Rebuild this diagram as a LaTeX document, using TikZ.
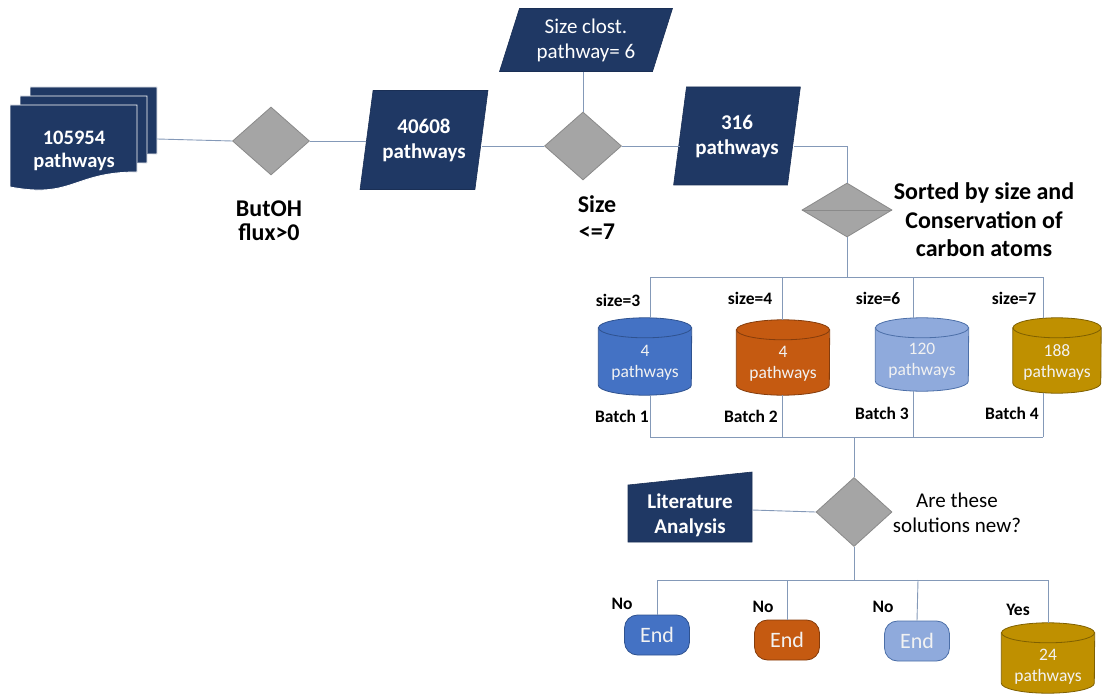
\documentclass[tikz,border=0pt]{standalone}
\usepackage{fontspec}
\setmainfont{Carlito}
\usetikzlibrary{shapes.geometric}
\definecolor{navy}{HTML}{1F3864}
\definecolor{navyd}{HTML}{1A2F55}
\definecolor{grayf}{HTML}{A5A5A5}
\definecolor{grayd}{HTML}{8A8A8A}
\definecolor{linec}{HTML}{8499B8}
\definecolor{cbA}{HTML}{4472C4}
\definecolor{cbAd}{HTML}{2F528F}
\definecolor{cbB}{HTML}{C55A11}
\definecolor{cbBd}{HTML}{843C0C}
\definecolor{cbC}{HTML}{8FAADC}
\definecolor{cbCd}{HTML}{4C6FA8}
\definecolor{cbD}{HTML}{BF9000}
\definecolor{cbDd}{HTML}{7F6000}
\definecolor{ctext}{HTML}{F2F2F2}
\newcommand{\mycyl}[7]{%
  \node[cylbox, minimum width={#5*1pt}, minimum height={(#4-#3)*1pt}] (#1) at (#2,{(#3+#4)/2}) {};
  \filldraw[fill=#6, draw=#7, line width=0.8pt]
    ([yshift=-10pt]#1.north west) -- ([yshift=10pt]#1.south west)
    arc[start angle=180, end angle=360, x radius={#5*0.5pt}, y radius=10pt]
    -- ([yshift=-10pt]#1.north east) -- cycle;
  \filldraw[fill=#6, draw=#7, line width=0.8pt]
    ([yshift=-10pt]#1.north) ellipse[x radius={#5*0.5pt}, y radius=10pt];
}
\begin{document}
\begin{tikzpicture}[x=1pt,y=-1pt,
  conn/.style={draw=linec, line width=0.9pt},
  dec/.style={diamond, fill=grayf, draw=grayd, line width=0.8pt, inner sep=0pt},
  para/.style={trapezium, trapezium stretches=true, fill=navy, draw=navyd, line width=0.6pt,
     text=white, align=center, inner sep=0pt, font=\bfseries\fontsize{21}{25}\selectfont},
  cylbox/.style={rectangle, inner sep=0pt},
  cyltext/.style={text=ctext, align=center, font=\fontsize{17.5}{21}\selectfont},
  endbox/.style={rectangle, rounded corners=13pt, minimum width=65pt, minimum height=40pt,
     inner sep=0pt, text=ctext, font=\fontsize{22}{24}\selectfont, line width=0.8pt},
  lab/.style={align=center, font=\bfseries\fontsize{17.5}{20}\selectfont},
  biglab/.style={align=center, font=\bfseries\fontsize{24}{24}\selectfont},
  wtext/.style={text=white, align=center, font=\bfseries\fontsize{20.5}{23}\selectfont}
]
\useasboundingbox (0,0) rectangle (1103,695);

% multi-document
\foreach \dx/\dy in {20/-18,10/-9,0/0}{
  \filldraw[fill=navy, draw=white, line width=0.9pt, shift={(\dx,\dy)}]
    (10,105) -- (137,105) -- (137,172) .. controls (73,172) and (73,199) .. (10,187) -- cycle;
}
\node[wtext] (docs) at (74,151) {105954\\pathways};
\coordinate (docR) at (157,139);

% decisions
\node[dec, minimum width=77pt, minimum height=68pt] (d1) at (271,141) {};
\node[dec, minimum width=77pt, minimum height=68pt] (d2) at (583,146) {};
\node[dec, minimum width=90pt, minimum height=54pt] (d3) at (847,210) {};
\draw[grayd, line width=0.8pt] (d3.west) -- (d3.east);
\node[dec, minimum width=76pt, minimum height=69pt] (d4) at (854,512) {};

% data parallelograms
\node[para, trapezium left angle=76, trapezium right angle=104,
      minimum width=128pt, minimum height=99pt] (p1) at (424,140) {40608\\pathways};
\node[para, trapezium left angle=71, trapezium right angle=109,
      minimum width=173pt, minimum height=63pt, font=\fontsize{21}{25}\selectfont] (sz) at (586,40) {Size clost.\\pathway= 6};
\node[para, trapezium left angle=76, trapezium right angle=104,
      minimum width=127pt, minimum height=98pt] (p2) at (737,136) {316\\pathways};

% literature analysis (manual input)
\filldraw[fill=navy, draw=navyd, line width=0.6pt] (628,485) -- (752,472) -- (752,542) -- (628,542) -- cycle;
\node[wtext, font=\bfseries\fontsize{21}{25}\selectfont] (lit) at (690,515) {Literature\\Analysis};
\coordinate (litE) at (752,510);

% labels
\node[biglab, font=\bfseries\fontsize{24}{24}\selectfont] (l1) at (269,221) {ButOH\\flux>0};
\node[biglab, font=\bfseries\fontsize{24}{27}\selectfont] (l2) at (597,218) {Size\\<=7};
\node[biglab, font=\bfseries\fontsize{24}{28.5}\selectfont] (l3) at (984,220) {Sorted by size and\\Conservation of\\carbon atoms};
\node[align=center, font=\fontsize{21}{25}\selectfont] (l4) at (957,513) {Are these\\solutions new?};

% batch cylinders
\mycyl{c1}{645}{318}{395}{93}{cbA}{cbAd}
\mycyl{c2}{783}{320}{395}{93}{cbB}{cbBd}
\mycyl{c3}{922}{318}{391}{93}{cbC}{cbCd}
\mycyl{c4}{1057}{318}{393}{88}{cbD}{cbDd}
\node[cyltext] (c1t) at (645,363) {4\\pathways};
\node[cyltext] (c2t) at (783,364) {4\\pathways};
\node[cyltext] (c3t) at (922,361) {120\\pathways};
\node[cyltext] (c4t) at (1057,362) {188\\pathways};

\node[lab] (s1) at (618,300) {size=3};
\node[lab] (s2) at (750,298) {size=4};
\node[lab] (s3) at (878,298) {size=6};
\node[lab] (s4) at (1014,298) {size=7};
\node[lab] (b1l) at (622,416) {Batch 1};
\node[lab] (b2l) at (751,416) {Batch 2};
\node[lab] (b3l) at (882,413) {Batch 3};
\node[lab] (b4l) at (1012,413) {Batch 4};

% end nodes
\node[endbox, fill=cbA, draw=cbAd] (e1) at (657,635) {End};
\node[endbox, fill=cbB, draw=cbBd] (e2) at (787,640) {End};
\node[endbox, fill=cbC, draw=cbCd] (e3) at (917,641) {End};
\mycyl{c5}{1048}{623}{693}{93}{cbD}{cbDd}
\node[cyltext] (c5t) at (1048,667) {24\\pathways};

\node[lab] (n1) at (622,604) {No};
\node[lab] (n2) at (763,607) {No};
\node[lab] (n3) at (883,607) {No};
\node[lab] (n4) at (1018,610) {Yes};

% bus coordinates
\coordinate (tb) at (847,277);
\coordinate (tb1) at (650,277);
\coordinate (tb2) at (782,277);
\coordinate (tb3) at (913,277);
\coordinate (tb4) at (1043,277);
\coordinate (bb) at (854,437);
\coordinate (bb1) at (650,437);
\coordinate (bb2) at (782,437);
\coordinate (bb3) at (913,437);
\coordinate (bb4) at (1043,437);
\coordinate (eb) at (854,580);
\coordinate (eb1) at (657,580);
\coordinate (eb2) at (787,580);
\coordinate (eb3) at (918,580);
\coordinate (eb4) at (1048,580);

% connectors
\draw[conn] (docR) -- (d1.west);
\draw[conn] (d1.east) -- (d1.east -| p1.west);
\draw[conn] (d2.west -| p1.east) -- (d2.west);
\draw[conn] (d2.north) -- (d2.north |- sz.south);
\draw[conn] (d2.east) -- (d2.east -| p2.west);
\draw[conn] (d2.east -| p2.east) -| (d3.north);
\draw[conn] (d3.south) -- (tb);
\draw[conn] (tb1) -- (tb4);
\draw[conn] (tb1) -- (tb1 |- c1.north);
\draw[conn] (tb2) -- (tb2 |- c2.north);
\draw[conn] (tb3) -- (tb3 |- c3.north);
\draw[conn] (tb4) -- (tb4 |- c4.north);
\draw[conn] (bb1 |- c1.south) -- (bb1);
\draw[conn] (bb2 |- c2.south) -- (bb2);
\draw[conn] (bb3 |- c3.south) -- (bb3);
\draw[conn] (bb4 |- c4.south) -- (bb4);
\draw[conn] (bb1) -- (bb4);
\draw[conn] (bb) -- (d4.north);
\draw[conn] (litE) -- (d4.west);
\draw[conn] (d4.south) -- (eb);
\draw[conn] (eb1) -- (eb4);
\draw[conn] (eb1) -- (e1.north);
\draw[conn] (eb2) -- (e2.north);
\draw[conn] (eb3) -- (e3.north);
\draw[conn] (eb4) -- (eb4 |- c5.north);
\end{tikzpicture}
\end{document}
